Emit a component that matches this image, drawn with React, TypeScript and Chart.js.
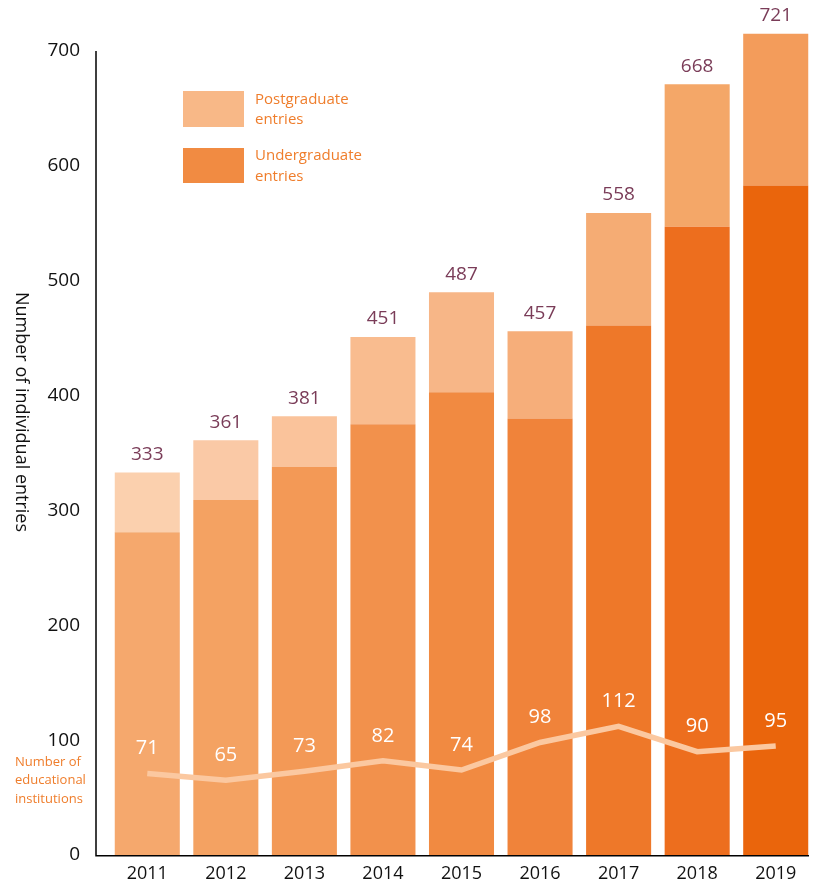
import React, { useEffect, useRef } from "react";
import { Chart, registerables } from "chart.js";

Chart.register(...registerables);

const years = ["2011", "2012", "2013", "2014", "2015", "2016", "2017", "2018", "2019"];
const undergraduate = [281, 309, 338, 375, 403, 380, 461, 547, 583];
const postgraduate = [52, 52, 44, 76, 87, 76, 98, 124, 132];
const totalLabels = ["333", "361", "381", "451", "487", "457", "558", "668", "721"];
const institutions = [71, 65, 73, 82, 74, 98, 112, 90, 95];
const yTicks = [0, 100, 200, 300, 400, 500, 600, 700];

const ugColors = ["#F5A86D", "#F4A262", "#F39956", "#F2914C", "#F18A41", "#F0833A", "#EE7829", "#ED6E1E", "#EA650C"];
const pgColors = ["#FBD0AE", "#FAC9A6", "#FAC39B", "#F9BC8F", "#F7B687", "#F6AE7A", "#F5AC74", "#F4A768", "#F39C5B"];

const FONT = "'Open Sans', 'Noto Sans', sans-serif";

const decorPlugin = {
  id: "decor",
  beforeDatasetsDraw(chart: any) {
    const { ctx } = chart;
    ctx.save();
    // legend
    ctx.fillStyle = "#F8B887";
    ctx.fillRect(183, 91, 61, 36);
    ctx.fillStyle = "#F18B42";
    ctx.fillRect(183, 148, 61, 35);
    ctx.fillStyle = "#EF7D2B";
    ctx.font = `15px ${FONT}`;
    ctx.textAlign = "left";
    ctx.textBaseline = "middle";
    ctx.fillText("Postgraduate", 255, 100);
    ctx.fillText("entries", 255, 120);
    ctx.fillText("Undergraduate", 255, 156);
    ctx.fillText("entries", 255, 177);
    // institutions label
    ctx.font = `13px ${FONT}`;
    ctx.fillText("Number of", 15, 762);
    ctx.fillText("educational", 15, 780);
    ctx.fillText("institutions", 15, 799);
    // y title
    ctx.fillStyle = "#111";
    ctx.font = `18px ${FONT}`;
    ctx.translate(21, 412);
    ctx.rotate(Math.PI / 2);
    ctx.textAlign = "center";
    ctx.fillText("Number of individual entries", 0, 0);
    ctx.restore();
  },
  afterDatasetsDraw(chart: any) {
    const { ctx } = chart;
    const y = chart.scales.y;
    ctx.save();
    // axis lines
    ctx.strokeStyle = "#000";
    ctx.lineWidth = 1.5;
    ctx.beginPath();
    ctx.moveTo(96, y.getPixelForValue(700));
    ctx.lineTo(96, y.getPixelForValue(0) + 0.75);
    ctx.lineTo(chart.chartArea.right - 6, y.getPixelForValue(0) + 0.75);
    ctx.stroke();
    // total labels
    const pgMeta = chart.getDatasetMeta(1);
    ctx.fillStyle = "#7A3C58";
    ctx.font = `19px ${FONT}`;
    ctx.textAlign = "center";
    ctx.textBaseline = "middle";
    pgMeta.data.forEach((el: any, i: number) => {
      ctx.fillText(totalLabels[i], el.x, el.y - 18);
    });
    // institution labels
    const lineMeta = chart.getDatasetMeta(2);
    ctx.fillStyle = "#FFFFFF";
    ctx.font = `20px ${FONT}`;
    lineMeta.data.forEach((el: any, i: number) => {
      ctx.fillText(String(institutions[i]), el.x, el.y - 25);
    });
    ctx.restore();
  },
};

export default function App() {
  const ref = useRef<HTMLCanvasElement>(null);
  useEffect(() => {
    if (!ref.current) return;
    const chart = new Chart(ref.current, {
      type: "bar",
      data: {
        labels: years,
        datasets: [
          {
            type: "bar",
            label: "Undergraduate entries",
            data: undergraduate,
            backgroundColor: ugColors,
            stack: "entries",
            order: 1,
            clip: false as any,
          },
          {
            type: "bar",
            label: "Postgraduate entries",
            data: postgraduate,
            backgroundColor: pgColors,
            stack: "entries",
            order: 1,
            clip: false as any,
          },
          {
            type: "line",
            label: "Number of educational institutions",
            data: institutions,
            borderColor: "#FBC8A0",
            borderWidth: 5.5,
            pointRadius: 0,
            tension: 0,
            stack: "inst",
            order: 0,
            clip: false as any,
          } as any,
        ],
      },
      plugins: [decorPlugin],
      options: {
        animation: false,
        responsive: false,
        maintainAspectRatio: false,
        layout: { padding: { top: 51, right: 0, bottom: 0, left: 0 } },
        datasets: { bar: { categoryPercentage: 1, barPercentage: 0.828 } },
        plugins: { legend: { display: false }, tooltip: { enabled: false } },
        scales: {
          x: {
            stacked: true,
            grid: { display: false, drawTicks: false },
            border: { display: false },
            ticks: { color: "#111", font: { family: FONT, size: 18 }, padding: 8 },
            afterFit: (s: any) => { s.height = 30; },
          },
          y: {
            stacked: true,
            min: 0,
            max: 700,
            grid: { display: false, drawTicks: true, tickLength: 28 },
            border: { display: false },
            afterBuildTicks: (s: any) => { s.ticks = yTicks.map((v) => ({ value: v })); },
            ticks: { color: "#111", font: { family: FONT, size: 19 }, padding: 0 },
            afterFit: (s: any) => { s.width = 108; },
          },
        },
      },
    });
    return () => chart.destroy();
  }, []);
  return (
    <div style={{ position: "fixed", left: 0, top: 0, width: 815, height: 885, background: "#fff" }}>
      <canvas ref={ref} width={815} height={885} style={{ width: 815, height: 885 }} />
    </div>
  );
}
